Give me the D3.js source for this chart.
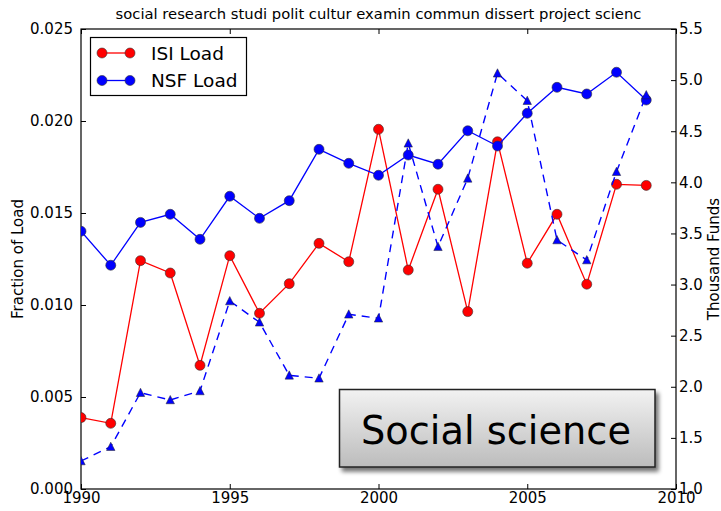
<!DOCTYPE html>
<html>
<head>
<meta charset="utf-8">
<script src="https://cdn.jsdelivr.net/npm/d3@7/dist/d3.min.js"></script>
<style>
  html, body { margin: 0; padding: 0; background: #fff; }
  svg { display: block; }
  text { font-family: "DejaVu Sans", sans-serif; fill: #000; }
</style>
</head>
<body>
<svg id="chart" width="721" height="511"></svg>
<script>
// ---- data ----
const years = [1990,1991,1992,1993,1994,1995,1996,1997,1998,1999,2000,2001,2002,2003,2004,2005,2006,2007,2008,2009];
const isiLoad = [0.00388,0.00357,0.01241,0.01174,0.00672,0.01268,0.00955,0.01116,0.01335,0.01235,0.01955,0.01190,0.01629,0.00964,0.01887,0.01227,0.01493,0.01113,0.01656,0.01650];
const nsfLoad = [0.01401,0.01216,0.01449,0.01493,0.01357,0.01591,0.01471,0.01567,0.01846,0.01770,0.01705,0.01815,0.01765,0.01947,0.01864,0.02042,0.02183,0.02147,0.02265,0.02114];
const nsfFunds = [1.274,1.414,1.942,1.871,1.959,2.839,2.631,2.112,2.083,2.709,2.670,4.382,3.370,4.039,5.067,4.799,3.436,3.240,4.104,4.854];
const xTicks = [1990,1995,2000,2005,2010];
const leftTicks = [0.000,0.005,0.010,0.015,0.020,0.025];
const rightTicks = [1.0,1.5,2.0,2.5,3.0,3.5,4.0,4.5,5.0,5.5];
const titleText = "social research studi polit cultur examin commun dissert project scienc";
const legendLabels = ["ISI Load","NSF Load"];
const leftLabel = "Fraction of Load";
const rightLabel = "Thousand Funds";
const panelLabel = "Social science";

// ---- layout ----
const L = 81, R = 676, T = 29, B = 489;
const svg = d3.select("#chart");

const x = d3.scaleLinear().domain([1990, 2010]).range([L, R]);
const yL = d3.scaleLinear().domain([0, 0.025]).range([B, T]);
const yR = d3.scaleLinear().domain([1.0, 5.5]).range([B, T]);

const defs = svg.append("defs");
defs.append("clipPath").attr("id", "clip")
  .append("rect").attr("x", L).attr("y", T).attr("width", R - L).attr("height", B - T);

const grad = defs.append("linearGradient").attr("id", "boxgrad")
  .attr("x1", 0).attr("y1", 0).attr("x2", 0).attr("y2", 1);
grad.append("stop").attr("offset", "0%").attr("stop-color", "#f2f2f2");
grad.append("stop").attr("offset", "100%").attr("stop-color", "#bcbcbc");

const filt = defs.append("filter").attr("id", "shadow")
  .attr("x", "-10%").attr("y", "-20%").attr("width", "130%").attr("height", "150%");
filt.append("feGaussianBlur").attr("in", "SourceAlpha").attr("stdDeviation", 2.2).attr("result", "blur");
filt.append("feOffset").attr("in", "blur").attr("dx", 3).attr("dy", 4).attr("result", "off");
filt.append("feComponentTransfer").attr("in", "off").attr("result", "sh")
  .append("feFuncA").attr("type", "linear").attr("slope", 0.55);
const fm = filt.append("feMerge");
fm.append("feMergeNode").attr("in", "sh");
fm.append("feMergeNode").attr("in", "SourceGraphic");

// ---- axes ----
const fontSize = 15;
const gx = svg.append("g").attr("transform", `translate(0,${B})`)
  .call(d3.axisBottom(x).tickValues(xTicks).tickFormat(d3.format("d")).tickSizeInner(-5).tickSizeOuter(0).tickPadding(3));
const gxt = svg.append("g").attr("transform", `translate(0,${T})`)
  .call(d3.axisTop(x).tickValues(xTicks).tickFormat("").tickSizeInner(-5).tickSizeOuter(0));
const gl = svg.append("g").attr("transform", `translate(${L},0)`)
  .call(d3.axisLeft(yL).tickValues(leftTicks).tickFormat(d3.format(".3f")).tickSizeInner(-5).tickSizeOuter(0).tickPadding(8));
const gr = svg.append("g").attr("transform", `translate(${R},0)`)
  .call(d3.axisRight(yR).tickValues(rightTicks).tickFormat(d3.format(".1f")).tickSizeInner(-5).tickSizeOuter(0).tickPadding(3));

[gx, gxt, gl, gr].forEach(g => {
  g.select(".domain").remove();
  g.selectAll("line").attr("stroke", "#000").attr("stroke-width", 1);
  g.selectAll("text").attr("font-family", "DejaVu Sans").attr("font-size", fontSize).attr("fill", "#000");
});
gx.selectAll("text").attr("dy", "0.71em");

// frame
svg.append("rect").attr("x", L).attr("y", T).attr("width", R - L).attr("height", B - T)
  .attr("fill", "none").attr("stroke", "#000").attr("stroke-width", 1.2);

// title
const tt = svg.append("text").attr("x", (L + R) / 2).attr("y", 19).attr("text-anchor", "middle")
  .attr("font-size", 14).text(titleText);
const tw = tt.node().getComputedTextLength();
tt.attr("font-size", 14 * 526 / tw);

// axis labels
svg.append("text").attr("transform", `translate(23,${(T + B) / 2}) rotate(-90)`)
  .attr("text-anchor", "middle").attr("font-size", 15).text(leftLabel);
svg.append("text").attr("transform", `translate(719,${(T + B) / 2}) rotate(-90)`)
  .attr("text-anchor", "middle").attr("font-size", 15).text(rightLabel);

// ---- data marks ----
const plot = svg.append("g").attr("clip-path", "url(#clip)");
const idx = d3.range(years.length);

function drawSeries(vals, yScale, color) {
  const line = d3.line().x(i => x(years[i])).y(i => yScale(vals[i]));
  plot.append("path").datum(idx).attr("d", line)
    .attr("fill", "none").attr("stroke", color).attr("stroke-width", 1.3);
  plot.selectAll(null).data(idx).enter().append("circle")
    .attr("cx", i => x(years[i])).attr("cy", i => yScale(vals[i])).attr("r", 5)
    .attr("fill", color).attr("stroke", "#333").attr("stroke-width", 0.6);
}
drawSeries(isiLoad, yL, "#ff0000");
drawSeries(nsfLoad, yL, "#0000ff");

// legend
const lg = svg.append("g");
lg.append("rect").attr("x", 90.5).attr("y", 37.5).attr("width", 156).attr("height", 58)
  .attr("fill", "#fff").attr("stroke", "#000").attr("stroke-width", 1.2);
const legColors = ["#ff0000", "#0000ff"];
legendLabels.forEach((lab, k) => {
  const yy = 53 + k * 27.5;
  lg.append("line").attr("x1", 102).attr("x2", 130).attr("y1", yy).attr("y2", yy)
    .attr("stroke", legColors[k]).attr("stroke-width", 1.3);
  [102, 130].forEach(cx => lg.append("circle").attr("cx", cx).attr("cy", yy).attr("r", 5)
    .attr("fill", legColors[k]).attr("stroke", "#333").attr("stroke-width", 0.6));
  lg.append("text").attr("x", 151).attr("y", yy).attr("dy", "0.36em")
    .attr("font-size", 18.5).text(lab);
});

// twin axis dashed series with triangles
const dline = d3.line().x(i => x(years[i])).y(i => yR(nsfFunds[i]));
plot.append("path").datum(idx).attr("d", dline)
  .attr("fill", "none").attr("stroke", "#0000ff").attr("stroke-width", 1.4)
  .attr("stroke-dasharray", "8,6");
plot.selectAll(null).data(idx).enter().append("path")
  .attr("transform", i => `translate(${x(years[i])},${yR(nsfFunds[i])})`)
  .attr("d", "M0,-4.5L4.2,3.8L-4.2,3.8Z")
  .attr("fill", "#0000ff").attr("stroke", "#222").attr("stroke-width", 0.5);

// panel label box
const pb = svg.append("g");
pb.append("rect").attr("x", 339.5).attr("y", 389.5).attr("width", 315.5).attr("height", 77.5)
  .attr("fill", "url(#boxgrad)").attr("stroke", "#222").attr("stroke-width", 1.5)
  .attr("filter", "url(#shadow)");
const pt = pb.append("text").attr("x", 496).attr("y", 444).attr("text-anchor", "middle")
  .attr("font-family", "Lato, 'Open Sans', sans-serif").attr("font-size", 44).text(panelLabel);
const w = pt.node().getComputedTextLength();
pt.attr("font-size", 44 * 270 / w);
</script>
</body>
</html>
